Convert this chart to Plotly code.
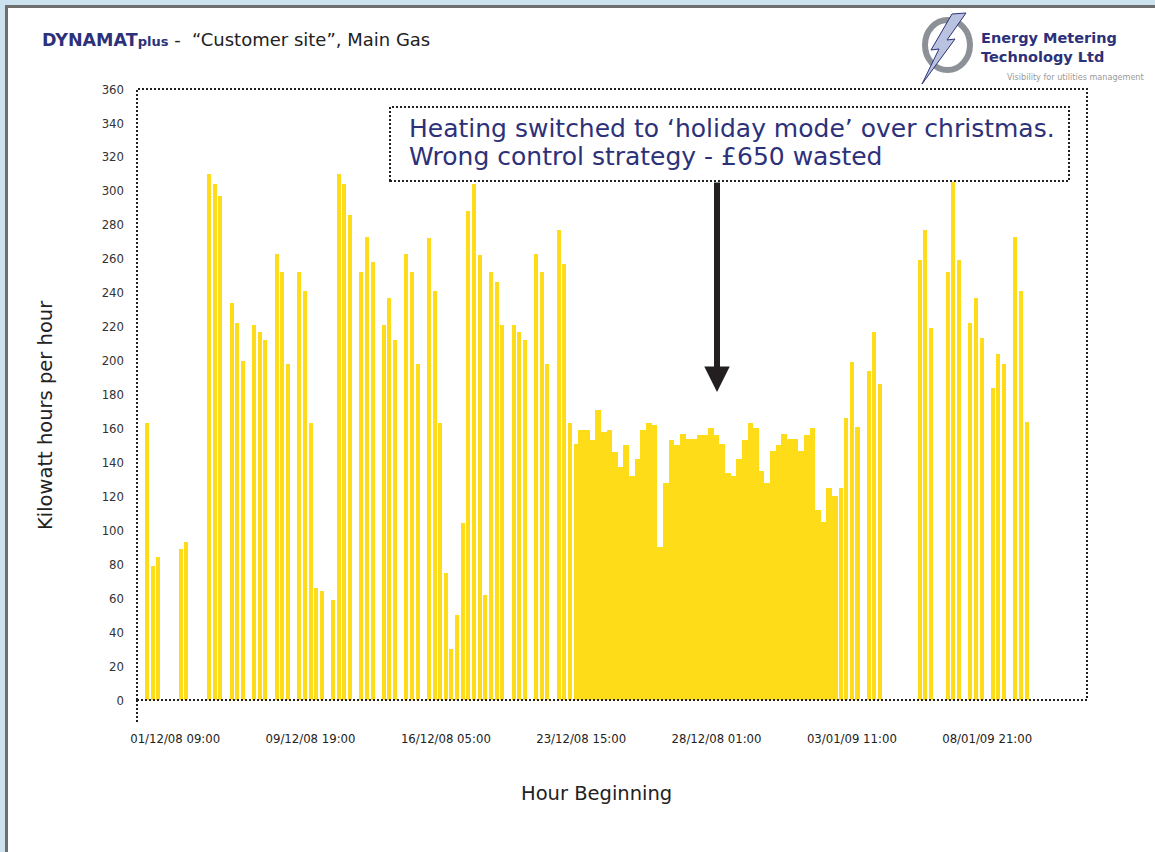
import plotly.graph_objects as go

# kWh per hour, one entry per hour slot on the chart (None = nothing drawn)
kwh = [
	163, 79, 84, None, None, None, 89, 93, None, None,
	None, 310, 304, 297, None, 234, 222, 200, None, 221,
	217, 212, None, 263, 252, 198, None, 252, 241, 163,
	66, 64, None, 59, 310, 304, 286, None, 252, 273,
	258, None, 221, 237, 212, None, 263, 252, 198, None,
	272, 241, 163, 75, 30, 50, 104, 288, 304, 262,
	62, 252, 246, 221, None, 221, 217, 212, None, 263,
	252, 198, None, 277, 257, 163, 151, 159, 159, 153,
	171, 158, 159, 146, 137, 150, 132, 142, 159, 163,
	162, 90, 128, 153, 150, 157, 154, 154, 156, 156,
	160, 156, 151, 134, 132, 142, 153, 163, 160, 135,
	128, 147, 150, 157, 154, 154, 147, 156, 160, 112,
	105, 125, 120, 125, 166, 199, 161, None, 194, 217,
	186, None, None, None, None, None, None, 259, 277, 219,
	None, None, 252, 305, 259, None, 222, 237, 213, None,
	184, 204, 198, None, 273, 241, 164,
]
slots = list(range(len(kwh)))

# christmas shutdown period, drawn as solid block
holiday_first = 77
holiday_last = 122

tick_slots = [5, 29, 53, 77, 101, 125, 149]
tick_text = ['01/12/08 09:00', '09/12/08 19:00', '16/12/08 05:00', '23/12/08 15:00',
	'28/12/08 01:00', '03/01/09 11:00', '08/01/09 21:00']
y_ticks = list(range(0, 361, 20))

W, H = 1155, 852
L, R, T, B = 137, 68, 89, 152
PW = W - L - R
PH = H - T - B

def px(x):
	return (x - L) / PW

def py(y):
	return (T + PH - y) / PH

NAVY = '#2d3179'
YELLOW = '#fedd18'
DOTS = '2px,2px'
WIDE = 'DejaVu Sans, Verdana, sans-serif'
TICKFONT = 'Liberation Sans Narrow, DejaVu Sans Condensed, Arial Narrow, sans-serif'

widths = [1.0 if holiday_first <= s <= holiday_last else 0.71 for s in slots]

fig = go.Figure(go.Bar(
	x=slots,
	y=kwh,
	width=widths,
	marker_color=YELLOW,
	marker_line_width=0,
))

shapes = [
	# page frame
	dict(type='rect', xref='paper', yref='paper', x0=px(5), x1=px(1200), y0=py(900), y1=py(5),
		fillcolor='#6e6e6e', line_width=0, layer='below'),
	dict(type='rect', xref='paper', yref='paper', x0=px(8), x1=px(1200), y0=py(900), y1=py(8),
		fillcolor='white', line_width=0, layer='below'),
	# dotted plot border
	dict(type='rect', xref='paper', yref='paper', x0=0, x1=1, y0=0, y1=1,
		line=dict(color='#231f20', width=2, dash=DOTS)),
	dict(type='line', xref='paper', yref='paper', x0=0, x1=0, y0=0, y1=py(723),
		line=dict(color='#231f20', width=2, dash=DOTS)),
	# annotation box
	dict(type='rect', xref='paper', yref='paper', x0=px(390), x1=px(1069), y0=py(181), y1=py(107),
		line=dict(color='#231f20', width=2, dash=DOTS)),
	# logo ring and bolt
	dict(type='circle', xref='paper', yref='paper', x0=px(925), x1=px(970), y0=py(70), y1=py(20),
		line=dict(color='#8c9097', width=6)),
	dict(type='path', xref='paper', yref='paper',
		path='M {} {} L {} {} L {} {} L {} {} L {} {} L {} {} L {} {} Z'.format(
			px(966), py(13), px(947), py(40), px(955), py(39), px(922), py(84),
			px(939), py(49), px(931), py(50), px(952), py(14)),
		fillcolor='#b9c3df', line=dict(color=NAVY, width=1)),
]

annotations = [
	dict(xref='paper', yref='paper', x=px(40), y=py(40), xanchor='left', yanchor='middle',
		showarrow=False,
		text="<b><span style='color:%s'>DYNAMAT<span style='font-size:13px'>plus</span></span></b>"
			"<span style='font-size:18px'> -  \u201cCustomer site\u201d, Main Gas</span>" % NAVY,
		font=dict(family=WIDE, size=17.5, color='#222222')),
	dict(xref='paper', yref='paper', x=px(979), y=py(47), xanchor='left', yanchor='middle',
		showarrow=False, align='left', text='<b>Energy Metering<br>Technology Ltd</b>',
		font=dict(family=WIDE, size=14.5, color=NAVY)),
	dict(xref='paper', yref='paper', x=px(1146), y=py(77), xanchor='right', yanchor='middle',
		showarrow=False, text='Visibility for utilities management',
		font=dict(family='Liberation Sans Narrow, DejaVu Sans Condensed, sans-serif', size=9, color='#9a9a9a')),
	dict(xref='paper', yref='paper', x=px(407), y=py(129), xanchor='left', yanchor='middle',
		showarrow=False,
		text='Heating switched to \u2018holiday mode\u2019 over christmas.',
		font=dict(family=WIDE, size=25, color=NAVY)),
	dict(xref='paper', yref='paper', x=px(407), y=py(156), xanchor='left', yanchor='middle',
		showarrow=False,
		text='Wrong control strategy - \u00a3650 wasted',
		font=dict(family=WIDE, size=25, color=NAVY)),
	dict(xref='paper', yref='paper', x=px(717), y=py(392), ax=0, ay=-(392 - 181),
		showarrow=True, text='', arrowhead=2, arrowwidth=6, arrowsize=0.85, arrowcolor='#231f20'),
	dict(xref='paper', yref='paper', x=px(45), y=py(415), xanchor='center', yanchor='middle',
		textangle=-90, showarrow=False, text='Kilowatt hours per hour',
		font=dict(family=WIDE, size=19.5, color='#222222')),
	dict(xref='paper', yref='paper', x=px(596), y=py(794), xanchor='center', yanchor='middle',
		showarrow=False, text='Hour Beginning',
		font=dict(family=WIDE, size=19.5, color='#222222')),
]

fig.update_layout(
	width=W, height=H,
	margin=dict(l=L, r=R, t=T, b=B),
	paper_bgcolor='#cce3ef',
	plot_bgcolor='rgba(0,0,0,0)',
	showlegend=False,
	bargap=0,
	shapes=shapes,
	annotations=annotations,
)
fig.update_xaxes(
	range=[-1.77, 166.7],
	tickvals=tick_slots,
	ticktext=tick_text,
	showgrid=False, zeroline=False, showline=False,
	ticks='', ticklabelstandoff=29,
	tickfont=dict(family=TICKFONT, size=13, color='#222222'),
)
fig.update_yaxes(
	range=[0, 360],
	tickvals=y_ticks,
	showgrid=False, zeroline=False, showline=False,
	ticks='', ticklabelstandoff=12,
	tickfont=dict(family=TICKFONT, size=13, color='#333333'),
)

# drop the page's default body margin so the figure sits at the top-left corner
fig.write_html("out.html", config={'displayModeBar': False},
	post_script="document.body.style.margin='0';")
